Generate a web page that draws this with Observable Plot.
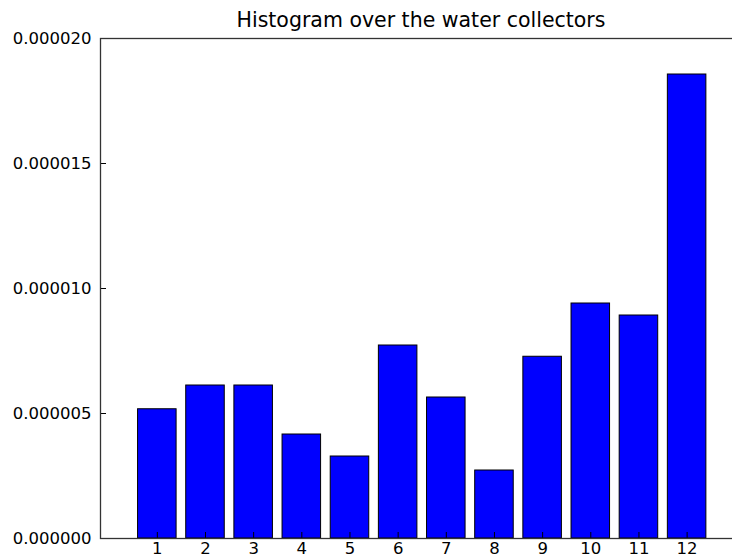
<!DOCTYPE html>
<html>
<head>
<meta charset="utf-8">
<script src="https://cdn.jsdelivr.net/npm/d3@7"></script>
<script src="https://cdn.jsdelivr.net/npm/@observablehq/plot@0.6"></script>
<style>
  html, body { margin: 0; padding: 0; background: #fff; overflow: hidden; }
  #wrap { width: 742px; font-family: "DejaVu Sans", sans-serif; }
  #title { position: relative; height: 30px; }
  #title span { position: absolute; left: 100px; width: 642px; top: 10px; text-align: center;
    font-size: 20.5px; line-height: 20px; color: #000; white-space: nowrap; }
</style>
</head>
<body>
<div id="wrap">
  <div id="title"><span>Histogram over the water collectors</span></div>
  <div id="chart"></div>
</div>
<script>
const collectors = [1, 2, 3, 4, 5, 6, 7, 8, 9, 10, 11, 12];
const values = [5.17e-6, 6.12e-6, 6.12e-6, 4.16e-6, 3.28e-6, 7.72e-6, 5.64e-6, 2.72e-6, 7.27e-6, 9.40e-6, 8.92e-6, 18.56e-6];
const yTicks = [0, 5e-6, 10e-6, 15e-6, 20e-6];
const xTicks = collectors;

const data = collectors.map((c, i) => ({c, v: values[i]}));

const W = 742, H = 529, mL = 100, mR = 0, mT = 8, mB = 21;
const plotW = W - mL - mR, plotH = H - mT - mB;
const font = "DejaVu Sans, sans-serif";

const chart = Plot.plot({
  width: W,
  height: H,
  marginLeft: mL,
  marginRight: mR,
  marginTop: mT,
  marginBottom: mB,
  style: {fontFamily: font, fontSize: "16.5px", color: "#000", background: "#fff"},
  x: {type: "linear", domain: [-0.18, 13.15], axis: null},
  y: {domain: [0, 20e-6], axis: null},
  marks: [
    Plot.rectY(data, {x1: d => d.c - 0.4, x2: d => d.c + 0.4, y1: 0, y2: "v", fill: "#0000ff", stroke: "#000", strokeWidth: 1}),
    Plot.tickY(yTicks, {y: d => d, stroke: "#000", insetRight: plotW - 6}),
    Plot.tickX(xTicks, {x: d => d, stroke: "#000", insetTop: plotH - 6}),
    Plot.frame({stroke: "#333", strokeWidth: 1.3}),
    Plot.axisY({ticks: yTicks, tickSize: 0, tickPadding: 9, tickFormat: d => d.toFixed(6), fontSize: 16.5, fill: "#000", label: null}),
    Plot.axisX({ticks: xTicks, tickSize: 0, tickPadding: 4, tickFormat: d => String(d), fontSize: 16.5, fill: "#000", label: null})
  ]
});
document.getElementById("chart").appendChild(chart);
</script>
</body>
</html>
